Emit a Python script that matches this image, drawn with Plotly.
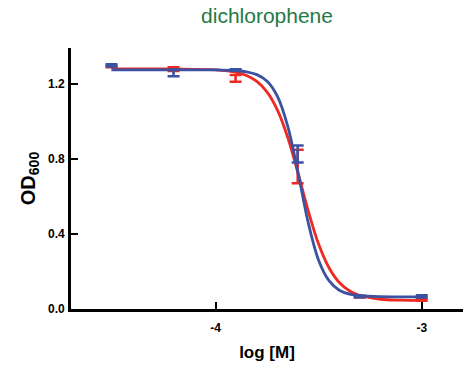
import plotly.graph_objects as go

# Dose-response of dichlorophene: OD600 vs log molar concentration
log_conc = [-4.505, -4.204, -3.903, -3.602, -3.301, -3.0]

blue_mean = [1.300, 1.260, 1.275, 0.827, 0.067, 0.068]
blue_sd = [0.006, 0.018, 0.004, 0.045, 0.004, 0.006]
red_mean = [1.294, 1.280, 1.230, 0.760, 0.066, 0.048]
red_sd = [0.005, 0.010, 0.018, 0.089, 0.004, 0.004]

# Fitted sigmoidal curves, sampled along log [M]
fit_x = [-4.505, -4.2, -4.0, -3.9, -3.85, -3.8, -3.75, -3.7, -3.65, -3.6,
         -3.55, -3.5, -3.45, -3.4, -3.35, -3.3, -3.2, -3.1, -3.0]
blue_fit = [1.275, 1.275, 1.275, 1.271, 1.265, 1.250, 1.215, 1.134, 0.974, 0.726,
            0.457, 0.259, 0.151, 0.100, 0.079, 0.071, 0.066, 0.065, 0.065]
red_fit = [1.280, 1.280, 1.275, 1.262, 1.245, 1.214, 1.157, 1.061, 0.915, 0.724,
           0.521, 0.345, 0.220, 0.141, 0.096, 0.072, 0.052, 0.047, 0.045]

y_ticks = [0.0, 0.4, 0.8, 1.2]
x_ticks = [-4, -3]

RED = "#ee2a22"
BLUE = "#3b52a3"
GREEN = "#1f7a42"
FONT = "Liberation Sans, Arial, sans-serif"


def curve(x, y, color):
    return go.Scatter(x=x, y=y, mode="lines", line=dict(color=color, width=2.8, shape="spline"),
                      hoverinfo="skip", showlegend=False)


def points(x, y, err, color):
    return go.Scatter(x=x, y=y, mode="markers",
                      marker=dict(size=2, color=color),
                      error_y=dict(type="data", array=err, visible=True,
                                   color=color, thickness=2.5, width=6),
                      showlegend=False)


fig = go.Figure()
fig.add_trace(curve(fit_x, red_fit, RED))
fig.add_trace(points(log_conc, red_mean, red_sd, RED))
fig.add_trace(curve(fit_x, blue_fit, BLUE))
fig.add_trace(points(log_conc, blue_mean, blue_sd, BLUE))

fig.update_layout(
    width=465, height=366,
    margin=dict(l=71, r=2, t=48, b=57),
    paper_bgcolor="white", plot_bgcolor="white",
    font=dict(family=FONT, color="black"),
    title=dict(text="dichlorophene", x=267 / 465, xref="container", xanchor="center",
               y=1 - 16 / 366, yref="container", yanchor="middle",
               font=dict(family=FONT, size=21, color=GREEN)),
    xaxis=dict(range=[-4.7015, -2.80], showline=True, linecolor="black", linewidth=2.6,
               showgrid=False, zeroline=False,
               tickmode="array", tickvals=x_ticks, ticktext=[f"<b>{v}</b>" for v in x_ticks],
               ticks="inside", ticklen=7, tickwidth=2, tickcolor="black",
               tickfont=dict(size=12, family=FONT), ticklabelstandoff=6,
               title=dict(text="<b>log [M]</b>", font=dict(size=17, family=FONT), standoff=12)),
    yaxis=dict(range=[0, 1.392], showline=True, linecolor="black", linewidth=2.6,
               showgrid=False, zeroline=False,
               tickmode="array", tickvals=y_ticks, ticktext=[f"<b>{v:.1f}</b>" for v in y_ticks],
               ticks="inside", ticklen=7, tickwidth=2, tickcolor="black",
               tickfont=dict(size=12, family=FONT), ticklabelstandoff=1,
               title=dict(text="<b>OD<sub>600</sub></b>", font=dict(size=20, family=FONT), standoff=8)),
)

fig.write_html("out.html")
